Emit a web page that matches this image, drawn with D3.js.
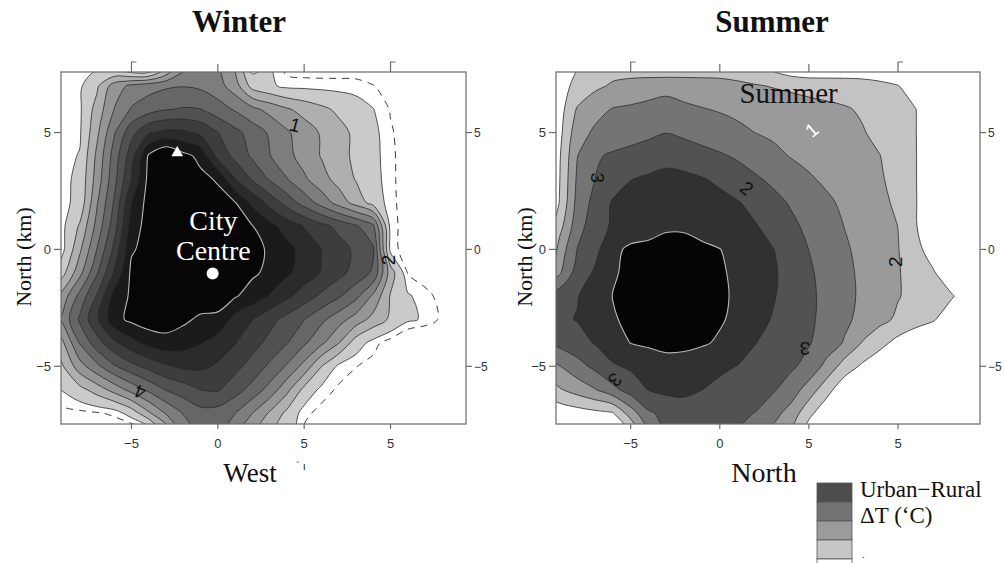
<!DOCTYPE html>
<html>
<head>
<meta charset="utf-8">
<script src="https://cdn.jsdelivr.net/npm/d3@7"></script>
<style>
  body { margin: 0; background: #fff; }
  svg { display: block; }
</style>
</head>
<body>
<svg id="chart" width="1005" height="563"></svg>
<script>
// Grid of urban–rural temperature differences (°C), 1 km spacing.
const gridX = d3.range(-10, 16);      // km, columns
const gridY = d3.range(8, -9, -1);    // km, rows (north first)

const winterDT = [
  [0, 0.62, 0.68, 0.61, -0.24, -1.49, -1.76, 0.86, 3.34, 3.95, 3.9, 2.69, 0.41, 0.98, 0.12, -0.03, -0.02, 0, 0.02, 0, -0.03, 0, 0, 0, 0, 0],
  [-0.5, 0.75, 0.85, 1.8, 3.5, 4.23, 4.61, 4.85, 4.95, 4.8, 4.4, 3.45, 1.6, 1.15, 0.8, 0.78, 0.75, 0.73, 0.7, 0.52, 0.3, 0.1, 0, 0, 0, 0],
  [-0.5, 0.75, 0.85, 2.4, 4.02, 5.09, 5.56, 5.93, 6.08, 6.02, 5.44, 4.88, 4.25, 3.67, 3.11, 2.65, 2.22, 1.8, 1.4, 1.02, 0.45, 0.1, 0, 0, 0, 0],
  [-0.5, 0.75, 0.88, 2.78, 4.9, 6.67, 7.89, 8.28, 8.22, 7.77, 7.02, 6.29, 5.57, 4.86, 4.14, 3.5, 2.89, 2.33, 1.78, 1.22, 0.57, 0.2, 0, 0, 0, 0],
  [-0.5, 0.75, 1.05, 3.22, 5.44, 7.56, 10.14, 11.1, 10.3, 9.74, 7.7, 6.73, 5.83, 5.05, 4.29, 3.6, 2.94, 2.35, 1.79, 1.26, 0.62, 0.2, 0, 0, 0, 0],
  [-0.5, 0.75, 1.24, 3.44, 5.67, 8.05, 10.3, 10.71, 10.75, 10.25, 9.9, 8.05, 6.9, 5.91, 5.05, 4.17, 3.38, 2.64, 1.94, 1.33, 0.63, 0.2, 0, 0, 0, 0],
  [-0.5, 0.75, 1.3, 3.89, 6.11, 9.0, 10.4, 10.58, 11.0, 10.67, 10.33, 10.05, 8.78, 7.67, 6.6, 5.6, 4.6, 3.6, 2.6, 1.6, 0.66, 0.2, 0, 0, 0, 0],
  [-0.4, 0.8, 2.11, 4.33, 6.56, 9.5, 10.4, 10.52, 10.84, 10.86, 10.58, 10.31, 10.03, 9.31, 8.6, 7.94, 7.31, 6.71, 6.12, 5.2, 0.73, 0.2, 0, 0, 0, 0],
  [-0.2, 0.77, 2.8, 5.02, 7.25, 9.9, 10.3, 10.51, 10.78, 10.95, 10.7, 10.46, 10.21, 9.91, 9.3, 8.67, 8.02, 7.41, 6.8, 6.13, 0.75, 0.2, 0, 0, 0, 0],
  [0.2, 1.64, 3.67, 5.89, 8.11, 10.2, 10.31, 10.56, 10.82, 10.92, 10.67, 10.42, 10.16, 9.78, 9.18, 8.56, 7.94, 7.31, 6.64, 5.83, 2.5, 0.45, 0.2, 0, 0, 0],
  [2.2, 3.4, 5.33, 7.09, 9.4, 10.15, 10.45, 10.76, 10.94, 10.66, 10.37, 10.09, 9.56, 8.93, 8.21, 7.5, 6.8, 6.13, 5.27, 3.8, 1.92, 1.1, 0.68, 0.3, 0, 0],
  [2.8, 4.2, 6.17, 7.83, 9.7, 10.21, 10.54, 10.54, 10.21, 9.8, 9.82, 8.63, 8.02, 7.33, 6.67, 6.02, 5.23, 4.42, 3.55, 2.64, 1.83, 1.14, 0.9, 0.35, 0, 0],
  [1.7, 2.8, 5.05, 6.57, 7.78, 8.67, 9.3, 9.6, 9.4, 9.05, 8.5, 8.05, 7.38, 6.71, 6.05, 5.17, 4.2, 3.05, 1.46, 0.7, 0.2, -0.4, -0.6, -0.5, -0.3, 0],
  [0.8, 1.9, 3.57, 4.75, 5.89, 6.69, 7.33, 7.89, 8.2, 8.2, 7.88, 7.29, 6.62, 5.82, 4.89, 3.67, 2.02, 0.82, 0.52, 0.3, 0.1, -0.2, -0.3, -0.2, 0, 0],
  [0.6, 1.05, 1.67, 2.45, 3.4, 4.36, 5.23, 6.05, 6.5, 7.02, 7.1, 6.43, 5.64, 4.63, 3.29, 1.72, 0.78, 0.4, 0.2, 0, 0, 0, 0, 0, 0, 0],
  [0.2, 0.3, 0.35, 0.45, 0.6, 1.43, 2.86, 4.1, 5.07, 5.65, 5.57, 5.02, 4.02, 2.88, 1.76, 0.66, 0.3, 0.1, 0, 0, 0, 0, 0, 0, 0, 0],
  [-0.23, -0.13, -0.08, -0.08, -0.04, -0.66, -0.47, 1.77, 4.06, 5.12, 5.21, 3.94, 2.94, 2.06, 1.43, 0.32, 0.09, 0, 0, 0, 0, 0, 0, 0, 0, 0]
];

const summerDT = [
  [0, -0.2, 0.9, 1.34, 1.45, 1.25, 0.93, 0.6, 0.83, 1.02, 1.24, 1.22, 0.93, 0.39, -0.17, -0.37, -0.27, -0.2, -0.2, -0.12, -0.27, -0.24, 0, 0, 0, 0],
  [0, 0.65, 1.24, 1.78, 2.13, 2.35, 2.58, 2.8, 2.65, 2.51, 2.36, 2.21, 2.07, 1.94, 1.82, 1.7, 1.63, 1.57, 1.5, 1.27, 1.03, 0.5, 0, 0, 0, 0],
  [-0.5, 0.57, 2.09, 2.7, 3.05, 3.15, 3.25, 3.25, 3.15, 3.04, 2.93, 2.81, 2.69, 2.57, 2.44, 2.32, 2.2, 2.08, 1.9, 1.6, 1.31, 1.01, 0.3, 0, 0, 0],
  [-0.5, 0.7, 2.61, 3.15, 3.37, 3.58, 3.79, 3.98, 3.8, 3.6, 3.39, 3.19, 2.99, 2.84, 2.69, 2.53, 2.37, 2.22, 2.06, 1.77, 1.4, 1.02, 0.3, 0, 0, 0],
  [-0.3, 0.88, 2.97, 3.87, 4.15, 4.32, 4.49, 4.67, 4.53, 4.32, 4.12, 3.87, 3.55, 3.23, 2.95, 2.76, 2.57, 2.38, 2.2, 2.01, 1.53, 1.03, 0.3, 0, 0, 0],
  [-0.3, 0.94, 3.15, 4.01, 4.47, 4.98, 5.15, 5.3, 5.24, 5.07, 4.82, 4.48, 4.14, 3.8, 3.45, 3.11, 2.84, 2.59, 2.35, 2.11, 1.65, 1.03, 0.3, 0, 0, 0],
  [-0.3, 1.02, 3.32, 4.32, 5.11, 5.33, 5.54, 5.76, 5.72, 5.5, 5.28, 5.06, 4.71, 4.3, 3.9, 3.53, 3.16, 2.83, 2.53, 2.23, 1.82, 1.04, 0.3, 0, 0, 0],
  [-0.3, 1.6, 3.59, 4.56, 5.13, 5.36, 5.6, 5.83, 5.85, 5.65, 5.46, 5.26, 5.06, 4.67, 4.21, 3.78, 3.38, 2.98, 2.65, 2.33, 1.99, 1.05, 0.3, 0, 0, 0],
  [-0.5, 2.4, 4.02, 4.72, 5.75, 6.2, 6.26, 6.44, 6.37, 6.19, 6.02, 5.67, 5.34, 5.02, 4.5, 3.99, 3.56, 3.13, 2.75, 2.4, 2.04, 1.29, 0.52, 0, 0, 0],
  [1.0, 2.84, 4.45, 5.13, 5.92, 6.17, 6.36, 6.54, 6.47, 6.28, 6.1, 5.84, 5.48, 5.12, 4.65, 4.14, 3.67, 3.23, 2.82, 2.44, 2.07, 1.58, 1.08, 0.3, 0, 0],
  [4.0, 4.58, 4.95, 5.47, 6.02, 6.21, 6.42, 6.63, 6.56, 6.35, 6.14, 5.87, 5.47, 5.07, 4.63, 4.19, 3.74, 3.27, 2.84, 2.45, 2.05, 1.73, 1.42, 1.1, 0.4, 0],
  [4.3, 4.84, 5.04, 5.48, 5.93, 6.16, 6.34, 6.53, 6.48, 6.29, 6.1, 5.78, 5.35, 4.92, 4.55, 4.17, 3.71, 3.2, 2.72, 2.26, 1.84, 1.46, 1.08, 0.4, 0, 0],
  [3.8, 4.28, 4.66, 5.06, 5.53, 6.02, 6.17, 6.34, 6.29, 6.12, 5.87, 5.44, 5.02, 4.69, 4.38, 4.07, 3.54, 2.91, 1.94, 1.32, 0.66, 0.15, 0, 0, 0, 0],
  [2.2, 2.96, 3.61, 4.25, 4.89, 5.15, 5.34, 5.53, 5.5, 5.33, 5.16, 4.98, 4.7, 4.43, 4.16, 3.67, 2.7, 1.55, 0.84, 0.25, 0, 0, 0, 0, 0, 0],
  [1.3, 1.9, 2.42, 2.95, 3.72, 4.46, 5.04, 5.23, 5.19, 5.01, 4.79, 4.56, 4.34, 4.11, 3.5, 2.56, 1.38, 0.3, 0, 0, 0, 0, 0, 0, 0, 0],
  [0, 0.34, 0.55, 0.75, 0.94, 2.51, 3.86, 4.28, 4.6, 4.45, 4.3, 4.15, 3.98, 3.35, 2.61, 1.29, 0.3, 0, 0, 0, 0, 0, 0, 0, 0, 0],
  [0, -0.17, -0.19, -0.21, 0.21, 0.57, 2.66, 4.11, 4.06, 4.23, 4.3, 3.94, 2.96, 2.6, 1.74, 0.26, -0.13, 0, 0, 0, 0, 0, 0, 0, 0, 0]
];

// Contour levels (°C) and the fill used above each level
const winterLevels = [1, 2, 3, 4, 5, 6, 7, 8, 9, 10];
const winterFills = ['#cacaca', '#afafaf', '#959595', '#7d7d7d', '#666666', '#515151', '#3d3d3d', '#2b2b2b', '#1b1b1b', '#060606'];
const winterDashLevels = [0.5];
const summerLevels = [1, 2, 3, 4, 5, 6];
const summerFills = ['#c3c3c3', '#9a9a9a', '#747474', '#525252', '#313131', '#050505'];

// Axis ticks and their printed labels
const xTickValues = [-5, 0, 5, 10];
const xTickText = ['\u22125', '0', '5', '5'];
const yTickValues = [-5, 0, 5];
const yTickText = ['\u22125', '0', '5'];

// Legend swatches (top to bottom)
const legendFills = ['#4d4d4d', '#737373', '#9b9b9b', '#c6c6c6', '#ffffff'];
const legendText = ['Urban\u2212Rural', '\u0394T (\u2018C)'];

// Contour labels printed on the lines
const winterLineLabels = [
  { x: 4.47, y: 5.32, text: '1', angle: 15, fill: '#111' },
  { x: 9.9, y: -0.45, text: '2', angle: -90, fill: '#111' },
  { x: -4.5, y: -6.1, text: '4', angle: 200, fill: '#111' }
];
const summerLineLabels = [
  { x: -6.83, y: 3.06, text: '3', angle: 90, fill: '#111' },
  { x: 1.51, y: 2.61, text: '2', angle: 40, fill: '#111' },
  { x: 9.83, y: -0.53, text: '2', angle: -90, fill: '#111' },
  { x: 4.78, y: -4.23, text: '3', angle: 180, fill: '#111' },
  { x: -5.88, y: -5.59, text: '3', angle: 135, fill: '#111' },
  { x: 5.16, y: 5.11, text: '1', angle: -40, fill: '#fff' }
];

const serif = '"Liberation Serif", "Times New Roman", serif';
const sans = '"Liberation Sans", Arial, sans-serif';

const panels = [
  {
    key: 'winter', title: 'Winter', titleX: 239, xTitle: 'West', xTitleX: 250, xTitleSize: 27,
    yTitleX: 31, yTitleY: 257,
    grid: winterDT, levels: winterLevels, fills: winterFills, dash: winterDashLevels,
    labels: winterLineLabels,
    left: 61, right: 466, top: 72, bottom: 424,
    xDomain: [-9.08, 14.37], yDomain: [-7.47, 7.59]
  },
  {
    key: 'summer', title: 'Summer', titleX: 772, xTitle: 'North', xTitleX: 764, xTitleSize: 28,
    yTitleX: 532, yTitleY: 257,
    grid: summerDT, levels: summerLevels, fills: summerFills, dash: [],
    labels: summerLineLabels,
    left: 556, right: 980, top: 72, bottom: 424,
    xDomain: [-9.19, 14.6], yDomain: [-7.47, 7.59]
  }
];

const svg = d3.select('#chart');
const defs = svg.append('defs');
const nCols = gridX.length, nRows = gridY.length;
const stepX = gridX[1] - gridX[0], stepY = gridY[1] - gridY[0];

panels.forEach(p => {
  const x = d3.scaleLinear().domain(p.xDomain).range([p.left, p.right]);
  const y = d3.scaleLinear().domain(p.yDomain).range([p.bottom, p.top]);

  // grid index space -> km (values sit at cell centres)
  const kmX = gi => gridX[0] + (gi - 0.5) * stepX;
  const kmY = gj => gridY[0] + (gj - 0.5) * stepY;
  const ringLine = d3.line()
    .x(d => x(kmX(d[0])))
    .y(d => y(kmY(d[1])))
    .curve(d3.curveCatmullRomClosed.alpha(0.5));
  const toPath = geom => geom.coordinates
    .map(poly => poly.map(ring => ringLine(ring.slice(0, -1))).join(''))
    .join('');

  const values = p.grid.flat();
  const contours = d3.contours().size([nCols, nRows]).thresholds(p.levels)(values);

  defs.append('clipPath').attr('id', 'clip-' + p.key)
    .append('rect')
    .attr('x', p.left).attr('y', p.top)
    .attr('width', p.right - p.left).attr('height', p.bottom - p.top);

  const plot = svg.append('g').attr('clip-path', `url(#clip-${p.key})`);
  plot.append('rect')
    .attr('x', p.left).attr('y', p.top)
    .attr('width', p.right - p.left).attr('height', p.bottom - p.top)
    .attr('fill', '#fff');

  const last = p.levels.length - 1;
  plot.selectAll('path.band')
    .data(contours)
    .join('path')
    .attr('class', 'band')
    .attr('d', toPath)
    .attr('fill', (d, i) => p.fills[i])
    .attr('fill-rule', 'evenodd')
    .attr('stroke', (d, i) => i === last ? '#b8b8b8' : '#2a2a2a')
    .attr('stroke-width', (d, i) => i === last ? 1.1 : 0.8)
    .attr('stroke-linejoin', 'round');

  if (p.dash.length) {
    const dashed = d3.contours().size([nCols, nRows]).thresholds(p.dash)(values);
    plot.selectAll('path.dash')
      .data(dashed)
      .join('path')
      .attr('class', 'dash')
      .attr('d', toPath)
      .attr('fill', 'none')
      .attr('stroke', '#3a3a3a')
      .attr('stroke-width', 1)
      .attr('stroke-dasharray', '7,6');
  }

  // labels written along the contours
  plot.selectAll('text.lab')
    .data(p.labels)
    .join('text')
    .attr('class', 'lab')
    .attr('transform', d => `translate(${x(d.x)},${y(d.y)}) rotate(${d.angle})`)
    .attr('text-anchor', 'middle')
    .attr('dy', '0.35em')
    .attr('font-family', sans)
    .attr('font-size', 19)
    .attr('fill', d => d.fill)
    .text(d => d.text);

  // frame
  svg.append('rect')
    .attr('x', p.left).attr('y', p.top)
    .attr('width', p.right - p.left).attr('height', p.bottom - p.top)
    .attr('fill', 'none').attr('stroke', '#6a6a6a').attr('stroke-width', 1.2);

  const axisColor = '#6a6a6a';
  // bottom ticks
  const bt = svg.append('g');
  xTickValues.forEach((v, i) => {
    bt.append('line').attr('x1', x(v)).attr('x2', x(v))
      .attr('y1', p.bottom).attr('y2', p.bottom + 5)
      .attr('stroke', axisColor).attr('stroke-width', 1.2);
    bt.append('text').attr('x', x(v)).attr('y', p.bottom + 24)
      .attr('text-anchor', 'middle').attr('font-family', sans).attr('font-size', 13)
      .attr('fill', '#333').text(xTickText[i]);
  });
  // top ticks (outer ones carry a small hook)
  xTickValues.forEach((v, i) => {
    const hook = i === 0 || i === xTickValues.length - 1;
    const px = x(v);
    svg.append('path')
      .attr('d', hook ? `M${px},${p.top}V${p.top - 10}h5` : `M${px},${p.top}V${p.top - 8}`)
      .attr('fill', 'none').attr('stroke', axisColor).attr('stroke-width', 1.2);
  });
  // left and right ticks
  yTickValues.forEach((v, i) => {
    const py = y(v);
    svg.append('line').attr('x1', p.left - 7).attr('x2', p.left)
      .attr('y1', py).attr('y2', py).attr('stroke', axisColor).attr('stroke-width', 1.2);
    svg.append('text').attr('x', p.left - 10).attr('y', py).attr('dy', '0.36em')
      .attr('text-anchor', 'end').attr('font-family', sans).attr('font-size', 13)
      .attr('fill', '#333').text(yTickText[i]);
    svg.append('line').attr('x1', p.right).attr('x2', p.right + 6)
      .attr('y1', py).attr('y2', py).attr('stroke', axisColor).attr('stroke-width', 1.2);
    svg.append('text').attr('x', p.right + 8).attr('y', py).attr('dy', '0.36em')
      .attr('text-anchor', 'start').attr('font-family', sans).attr('font-size', 12)
      .attr('fill', '#333').text(yTickText[i]);
  });

  // titles
  svg.append('text').attr('x', p.titleX).attr('y', 32)
    .attr('text-anchor', 'middle').attr('font-family', serif).attr('font-weight', 'bold')
    .attr('font-size', 31).attr('fill', '#111').text(p.title);
  svg.append('text').attr('x', p.xTitleX).attr('y', 482)
    .attr('text-anchor', 'middle').attr('font-family', serif)
    .attr('font-size', p.xTitleSize).attr('fill', '#111').text(p.xTitle);
  svg.append('text')
    .attr('transform', `translate(${p.yTitleX},${p.yTitleY}) rotate(-90)`)
    .attr('text-anchor', 'middle').attr('font-family', serif)
    .attr('font-size', 22).attr('fill', '#111').text('North (km)');

  if (p.key === 'winter') {
    // city centre marker, triangle site and annotation
    svg.append('path')
      .attr('transform', `translate(${x(-2.35)},${y(4.13)})`)
      .attr('d', d3.symbol(d3.symbolTriangle, 60)())
      .attr('fill', '#fff');
    svg.append('circle').attr('cx', x(-0.3)).attr('cy', y(-1.03)).attr('r', 6).attr('fill', '#fff');
    svg.append('text').attr('x', x(-0.26)).attr('y', y(0.83))
      .attr('text-anchor', 'middle').attr('font-family', serif).attr('font-size', 28)
      .attr('fill', '#fff').text('City');
    svg.append('text').attr('x', x(-0.26)).attr('y', y(-0.45))
      .attr('text-anchor', 'middle').attr('font-family', serif).attr('font-size', 28)
      .attr('fill', '#fff').text('Centre');
    svg.append('text').attr('x', 301).attr('y', 470)
      .attr('text-anchor', 'middle').attr('font-family', sans).attr('font-size', 11)
      .attr('fill', '#222').text('` ı');
  } else {
    svg.append('text').attr('x', x(3.86)).attr('y', y(6.25))
      .attr('text-anchor', 'middle').attr('font-family', serif).attr('font-size', 29)
      .attr('fill', '#111').text('Summer');
  }
});

// legend
const lg = svg.append('g');
legendFills.forEach((c, i) => {
  lg.append('rect').attr('x', 817).attr('y', 483 + i * 19)
    .attr('width', 35).attr('height', 19)
    .attr('fill', c).attr('stroke', '#555').attr('stroke-width', 0.8);
});
legendText.forEach((t, i) => {
  lg.append('text').attr('x', 860).attr('y', 497 + i * 26)
    .attr('font-family', serif).attr('font-size', 23).attr('fill', '#111').text(t);
});
lg.append('text').attr('x', 862).attr('y', 558)
  .attr('font-family', serif).attr('font-size', 11).attr('fill', '#333').text('.');
</script>
</body>
</html>
